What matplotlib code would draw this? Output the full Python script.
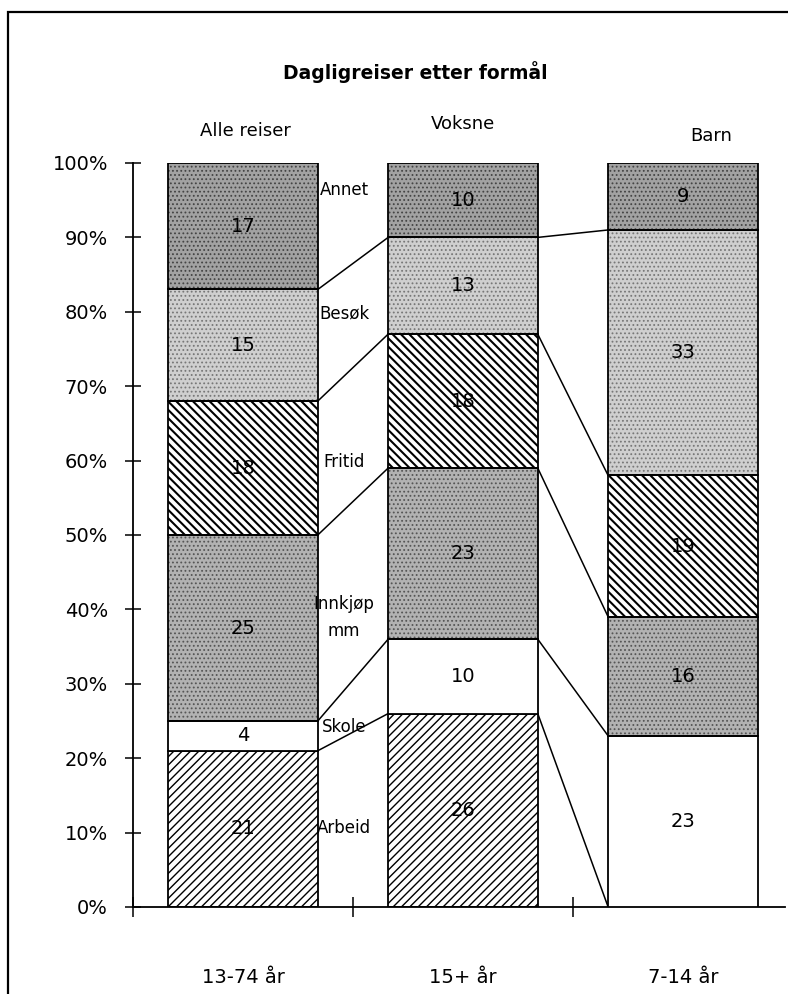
import numpy as np
import matplotlib.pyplot as plt
from matplotlib.patches import Rectangle

plt.rcParams['font.family'] = ['DejaVu Sans']
plt.rcParams['hatch.linewidth'] = 1.3

# data (prosent av dagligreiser)
groups = ['13-74 år', '15+ år', '7-14 år']
top_labels = ['Alle reiser', 'Voksne', 'Barn']
purposes = ['Arbeid', 'Skole', 'Innkjøp\nmm', 'Fritid', 'Besøk', 'Annet']
arbeid = [21, 26, 0]
skole = [4, 10, 23]
innkjop = [25, 23, 16]
fritid = [18, 18, 19]
besok = [15, 13, 33]
annet = [17, 10, 9]

# where the purpose names sit in the gap between bar 1 and 2
purpose_label_y = [10.6, 24.2, 38.9, 59.8, 79.8, 96.4]

series = [arbeid, skole, innkjop, fritid, besok, annet]
# (face, hatch, hatch colour, hatch width)
styles = [('white', '////', 'black', 1.0),
          ('white', None, None, None),
          ('#b2b2b2', '....', '#555555', 0.8),
          ('white', '\\\\\\\\', 'black', 1.5),
          ('#cfcfcf', '....', '#777777', 0.8),
          ('#a2a2a2', '....', '#444444', 0.8)]

fig = plt.figure(figsize=(7.88, 9.94), dpi=100)
ax = fig.add_axes([133 / 788, 87 / 994, 652 / 788, 744 / 994])

x = np.arange(len(groups))
w = 0.68
vals = np.array(series, dtype=float)
cum = np.vstack([np.zeros(len(groups)), np.cumsum(vals, axis=0)])

for k, (v, (fc, hatch, hc, hlw)) in enumerate(zip(vals, styles)):
    if hatch:
        plt.rcParams['hatch.linewidth'] = hlw
        bars = ax.bar(x, v, w, bottom=cum[k], facecolor=fc, hatch=hatch,
                      edgecolor=hc, linewidth=0, zorder=2)
        for b in bars:
            if hasattr(b, 'set_hatch_linewidth'):
                b.set_hatch_linewidth(hlw)
        ax.bar(x, v, w, bottom=cum[k], facecolor='none',
               edgecolor='black', linewidth=1.3, zorder=3)
    else:
        ax.bar(x, v, w, bottom=cum[k], facecolor=fc,
               edgecolor='black', linewidth=1.3, zorder=3)
    for i in range(len(groups)):
        if v[i] > 0:
            ax.text(x[i], cum[k][i] + v[i] / 2, '%d' % v[i], ha='center',
                    va='center', fontsize=14, zorder=4)

# connecting lines between the bars
for i in range(len(groups) - 1):
    for k in range(1, len(series)):
        ax.plot([x[i] + w / 2, x[i + 1] - w / 2], [cum[k][i], cum[k][i + 1]],
                color='black', linewidth=1.1, zorder=1)

for name, yy in zip(purposes, purpose_label_y):
    ax.text(0.46, yy, name, ha='center', va='center', fontsize=12,
            linespacing=1.6, zorder=5)

ax.set_xlim(-0.5, 2.464)
ax.set_ylim(0, 100)
ax.spines['top'].set_visible(False)
ax.spines['right'].set_visible(False)
ax.spines['left'].set_linewidth(1.3)
ax.spines['bottom'].set_linewidth(1.3)

ax.set_yticks(np.arange(0, 101, 10))
ax.set_yticklabels(['%d%%' % t for t in range(0, 101, 10)], fontsize=14)
ax.tick_params(axis='y', direction='inout', length=12, width=1.1, pad=12)

ax.set_xticks([-0.5, 0.5, 1.5])
ax.set_xticklabels([])
ax.tick_params(axis='x', which='major', direction='inout', length=14, width=1.1)
ax.set_xticks(x, minor=True)
ax.set_xticklabels(groups, minor=True, fontsize=14)
ax.tick_params(axis='x', which='minor', length=0, pad=44)

for xi, lab, yy in zip([0.01, 1.0, 2.13], top_labels, [104.3, 105.2, 103.6]):
    ax.text(xi, yy, lab, ha='center', va='center', fontsize=13, clip_on=False)

fig.text(415 / 788, 1 - 72 / 994, 'Dagligreiser etter formål', ha='center',
         va='center', fontsize=13.5, fontweight='heavy')

# frame around the figure
fig.patches.append(Rectangle((8 / 788, -0.05), 1.2, 1.05 - 12 / 994,
                             transform=fig.transFigure, fill=False,
                             edgecolor='black', linewidth=1.6))

fig.savefig('out.png', dpi=100)
